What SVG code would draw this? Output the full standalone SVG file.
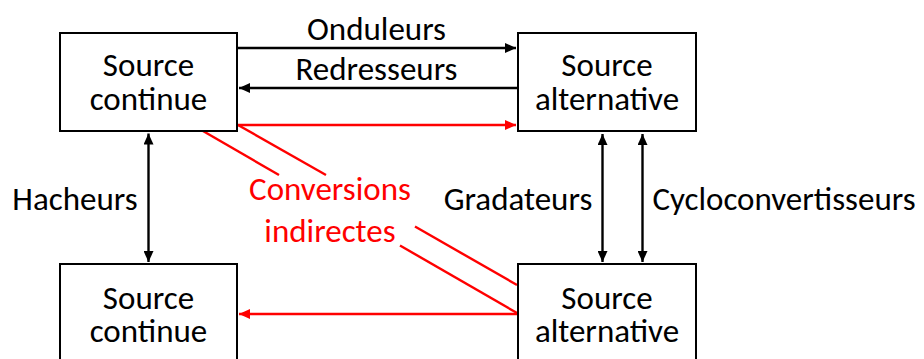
<svg xmlns="http://www.w3.org/2000/svg" width="924" height="359" viewBox="0 0 924 359">
<defs>
<style>
.box{fill:#fff;stroke:#000;stroke-width:2}
.t{font-family:Carlito,Calibri,Lato,"Liberation Sans",sans-serif;font-size:33px;text-anchor:middle;fill:#000}
.red{fill:#f00}
.ln{stroke:#000;stroke-width:2.4;fill:none}
.lr{stroke:#f00;stroke-width:2.4;fill:none}
</style>
<marker id="ab" viewBox="0 0 11 10" refX="11" refY="5" markerWidth="11" markerHeight="10" markerUnits="userSpaceOnUse" orient="auto-start-reverse"><path d="M0,0 L11,5 L0,10 z" fill="#000"/></marker>
<marker id="ar" viewBox="0 0 11 10" refX="11" refY="5" markerWidth="11" markerHeight="10" markerUnits="userSpaceOnUse" orient="auto-start-reverse"><path d="M0,0 L11,5 L0,10 z" fill="#f00"/></marker>
</defs>
<g id="connectors">
<line class="ln" x1="237" y1="48" x2="516" y2="48" marker-end="url(#ab)"/>
<line class="ln" x1="518" y1="88" x2="239" y2="88" marker-end="url(#ab)"/>
<line class="lr" x1="237" y1="125" x2="516" y2="125" marker-end="url(#ar)"/>
<line class="lr" x1="518" y1="314" x2="239" y2="314" marker-end="url(#ar)"/>
<line class="ln" x1="148.5" y1="133.5" x2="148.5" y2="262" marker-start="url(#ab)" marker-end="url(#ab)"/>
<line class="ln" x1="602.5" y1="134" x2="602.5" y2="262" marker-start="url(#ab)" marker-end="url(#ab)"/>
<line class="ln" x1="642.5" y1="134" x2="642.5" y2="262" marker-start="url(#ab)" marker-end="url(#ab)"/>
<line class="lr" x1="203" y1="131" x2="279" y2="175"/>
<line class="lr" x1="400" y1="245.5" x2="517" y2="313"/>
<line class="lr" x1="238" y1="125" x2="326" y2="175"/>
<line class="lr" x1="415" y1="226.5" x2="517" y2="285"/>
<text class="t" x="376.5" y="40">Onduleurs</text>
<text class="t" x="376.5" y="79.5">Redresseurs</text>
<text class="t" x="75" y="209.5">Hacheurs</text>
<text class="t" x="518" y="209.5">Gradateurs</text>
<text class="t" x="784" y="209.5">Cycloconvertisseurs</text>
<text class="t red" x="330" y="200">Conversions</text>
<text class="t red" x="330" y="242">indirectes</text>
</g>
<g id="dc-top">
<rect class="box" x="60" y="33" width="177" height="98"/>
<text class="t" x="148.5" y="76">Source</text>
<text class="t" x="148.5" y="110">continue</text>
</g>
<g id="ac-top">
<rect class="box" x="518" y="33" width="178" height="98"/>
<text class="t" x="607" y="76">Source</text>
<text class="t" x="607" y="110">alternative</text>
</g>
<g id="dc-bottom">
<rect class="box" x="60" y="264" width="177" height="98"/>
<text class="t" x="148.5" y="308.5">Source</text>
<text class="t" x="148.5" y="342">continue</text>
</g>
<g id="ac-bottom">
<rect class="box" x="518" y="264" width="178" height="98"/>
<text class="t" x="607" y="308.5">Source</text>
<text class="t" x="607" y="342">alternative</text>
</g>
</svg>
